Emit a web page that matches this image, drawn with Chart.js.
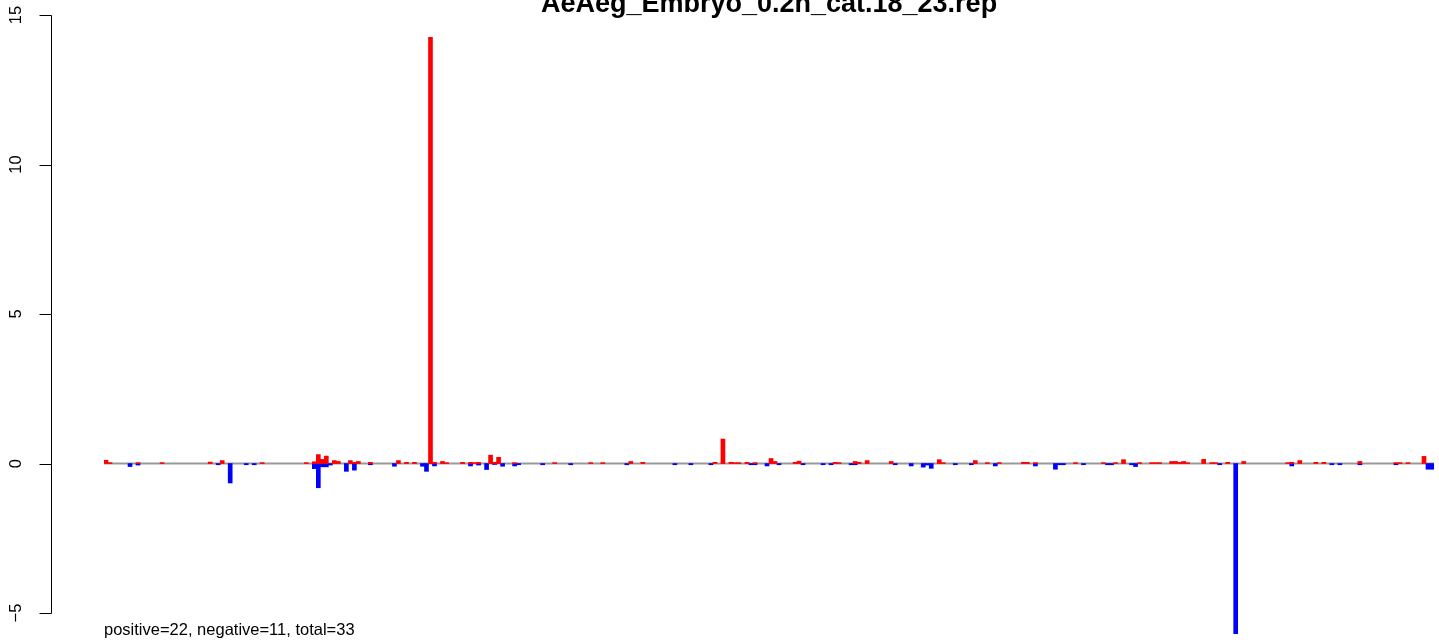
<html><head><title>AeAeg_Embryo_0.2h_cat.18_23.rep</title>
<script src="https://cdn.jsdelivr.net/npm/chart.js"></script>
<style>
    body {
        margin: 0;
        background: #fff;
        overflow: hidden;
    }
    canvas {
        display: block;
    }
</style>
</head>
<body>
    <canvas id="repChart" width="1439" height="640" style="width:1439px;height:640px"></canvas>

    <script>
    // bar slots along the x axis
    const slotCount = 332;

    // positive bars (red): slot index and value
    const posIdx = [0, 1, 8, 14, 26, 29, 39, 50, 52, 53, 54, 55, 57, 58, 61, 62, 63, 66, 73, 75, 77, 81, 82, 84, 85,
        89, 91, 92, 93, 96, 97, 98, 102, 112, 121, 124, 131, 134, 152, 154, 156, 157, 158, 160, 162, 166, 167,
        172, 173, 182, 183, 187, 188, 190, 196, 208, 209, 217, 220, 223, 229, 230, 232, 242, 249, 252, 254, 258,
        261, 262, 263, 266, 267, 268, 269, 270, 274, 276, 277, 280, 284, 295, 296, 298, 302, 304, 313, 322, 323,
        325, 329];
    const posVal = [0.11, 0.03, 0.03, 0.03, 0.05, 0.1, 0.03, 0.03, 0.06, 0.3, 0.14, 0.25, 0.1, 0.07, 0.1, 0.04, 0.07, 0.04, 0.1, 0.04, 0.04, 14.25, 0.04, 0.07, 0.03,
        0.04, 0.04, 0.03, 0.04, 0.28, 0.04, 0.21, 0.03, 0.03, 0.03, 0.03, 0.07, 0.04, 0.04, 0.82, 0.04, 0.03, 0.03, 0.04, 0.03, 0.17, 0.07,
        0.04, 0.08, 0.04, 0.03, 0.07, 0.04, 0.1, 0.07, 0.13, 0.03, 0.1, 0.03, 0.03, 0.04, 0.04, 0.03, 0.03, 0.03, 0.03, 0.13, 0.03,
        0.03, 0.03, 0.03, 0.07, 0.07, 0.04, 0.07, 0.03, 0.14, 0.03, 0.03, 0.04, 0.07, 0.03, 0.04, 0.1, 0.04, 0.04, 0.07, 0.03, 0.03,
        0.03, 0.24];

    // negative bars (blue): slot index and value
    const negIdx = [6, 8, 28, 31, 35, 37, 52, 53, 54, 55, 56, 60, 62, 66, 72, 79, 80, 82, 91, 93, 95, 97, 99, 102, 103,
        109, 116, 130, 142, 146, 151, 161, 162, 165, 168, 174, 179, 181, 186, 187, 197, 201, 204, 205, 206, 212,
        216, 222, 232, 237, 238, 239, 244, 250, 251, 256, 257, 278, 282, 296, 306, 308, 313, 322, 330, 331];
    const negVal = [-0.1, -0.05, -0.04, -0.65, -0.04, -0.04, -0.17, -0.81, -0.11, -0.11, -0.05, -0.26, -0.22, -0.04, -0.09, -0.09, -0.26, -0.08, -0.08, -0.05, -0.2, -0.03, -0.09, -0.08, -0.04,
        -0.04, -0.04, -0.04, -0.04, -0.04, -0.04, -0.04, -0.04, -0.08, -0.04, -0.04, -0.04, -0.04, -0.04, -0.04, -0.04, -0.08, -0.12, -0.05, -0.16, -0.04,
        -0.04, -0.08, -0.08, -0.19, -0.04, -0.04, -0.04, -0.04, -0.04, -0.04, -0.1, -0.04, -5.69, -0.08, -0.04, -0.04, -0.04, -0.04, -0.19, -0.19];

    const yTicks = [-5, 0, 5, 10, 15];
    const yTickLabels = ['\u22125', '0', '5', '10', '15'];
    const titleText = 'AeAeg_Embryo_0.2h_cat.18_23.rep';
    const footText = 'positive=22, negative=11, total=33';

    const labels = [];
    const posData = [];
    const negData = [];
    for (let i = 0; i < slotCount; i++) {
        labels.push(String(i + 1));
        posData.push(null);
        negData.push(null);
    }
    posIdx.forEach((k, i) => { posData[k] = posVal[i]; });
    negIdx.forEach((k, i) => { negData[k] = negVal[i]; });

    const FONT = '"Liberation Sans", Arial, Helvetica, sans-serif';

    // R-style decorations: zero line, left axis, title, footnote
    const rStyle = {
        id: 'rStyle',
        beforeDatasetsDraw(chart) {
            const ctx = chart.ctx;
            const y0 = chart.scales.y.getPixelForValue(0);
            ctx.save();
            ctx.strokeStyle = '#999999';
            ctx.lineWidth = 2;
            ctx.beginPath();
            ctx.moveTo(chart.chartArea.left, y0);
            ctx.lineTo(chart.chartArea.right, y0);
            ctx.stroke();
            ctx.restore();
        },
        afterDraw(chart) {
            const ctx = chart.ctx;
            const y = chart.scales.y;
            const axisX = 51.5;
            ctx.save();
            ctx.strokeStyle = '#000';
            ctx.lineWidth = 1;
            ctx.beginPath();
            ctx.moveTo(axisX, Math.round(y.getPixelForValue(yTicks[yTicks.length - 1])) + 0.5);
            ctx.lineTo(axisX, Math.round(y.getPixelForValue(yTicks[0])) + 0.5);
            yTicks.forEach(t => {
                const py = Math.round(y.getPixelForValue(t)) + 0.5;
                ctx.moveTo(axisX, py);
                ctx.lineTo(axisX - 12, py);
            });
            ctx.stroke();

            ctx.fillStyle = '#000';
            ctx.font = '16.5px ' + FONT;
            ctx.textAlign = 'center';
            ctx.textBaseline = 'alphabetic';
            yTicks.forEach((t, i) => {
                ctx.save();
                ctx.translate(21, y.getPixelForValue(t));
                ctx.rotate(-Math.PI / 2);
                ctx.fillText(yTickLabels[i], 0, 0);
                ctx.restore();
            });

            ctx.font = 'bold 27px ' + FONT;
            ctx.textAlign = 'center';
            ctx.fillText(titleText, 769, 12);

            ctx.font = '16.5px ' + FONT;
            ctx.textAlign = 'left';
            ctx.fillText(footText, 104, 635);
            ctx.restore();
        }
    };

    const ctx = document.getElementById('repChart').getContext('2d');
    const chart = new Chart(ctx, {
        type: 'bar',
        data: {
            labels: labels,
            datasets: [{
                label: 'positive',
                data: posData,
                backgroundColor: '#ff0000',
                borderWidth: 0,
                barPercentage: 1,
                categoryPercentage: 1
            }, {
                label: 'negative',
                data: negData,
                backgroundColor: '#0000ff',
                borderWidth: 0,
                barPercentage: 1,
                categoryPercentage: 1
            }]
        },
        options: {
            responsive: false,
            animation: false,
            devicePixelRatio: 1,
            layout: {
                padding: { left: 104, right: 5, top: 9, bottom: 3 }
            },
            plugins: {
                legend: { display: false },
                title: { display: false },
                tooltip: { enabled: false }
            },
            scales: {
                x: {
                    stacked: true,
                    display: false
                },
                y: {
                    stacked: true,
                    display: false,
                    min: -5.8,
                    max: 15.2
                }
            }
        },
        plugins: [rStyle]
    });
    </script>
</body>
</html>
